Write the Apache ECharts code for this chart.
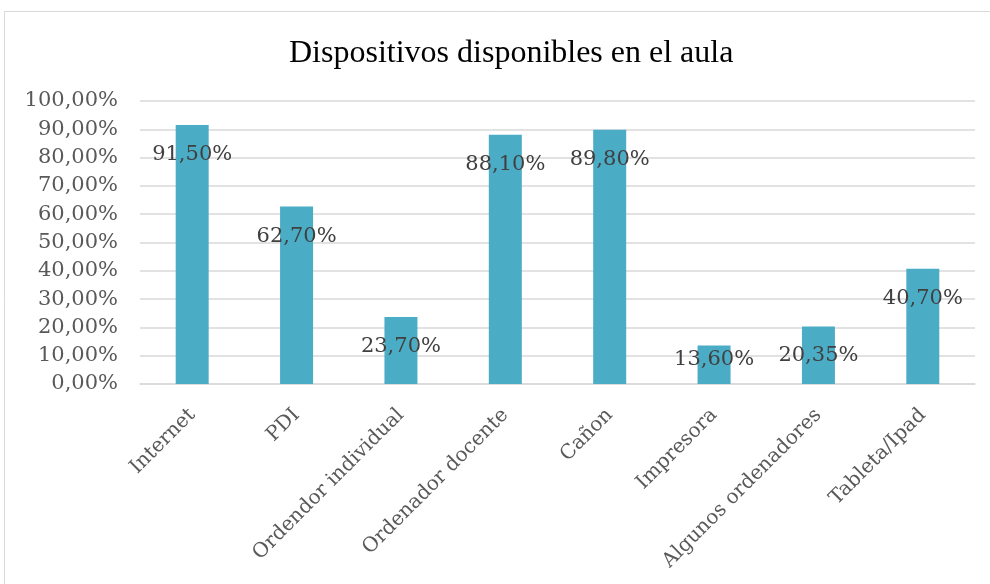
<!DOCTYPE html>
<html><head><meta charset="utf-8">
<script src="https://cdn.jsdelivr.net/npm/echarts@6/dist/echarts.min.js"></script>
<style>html,body{margin:0;padding:0;background:#fff}#c{width:990px;height:584px}</style>
</head><body><div id="c"></div>
<script>
const categories = ['Internet','PDI','Ordendor individual','Ordenador docente','Cañon','Impresora','Algunos ordenadores','Tableta/Ipad'];
const values = [91.5, 62.7, 23.7, 88.1, 89.8, 13.6, 20.35, 40.7];
const yTicks = {min: 0, max: 100, interval: 10};
const titleText = 'Dispositivos disponibles en el aula';

const fmt = v => v.toFixed(2).replace('.', ',') + '%';
const chart = echarts.init(document.getElementById('c'), null, {renderer: 'canvas'});
const data = values.map((v, i) => {
  const d = {value: v};
  if (v < 16) d.label = {distance: 4};
  return d;
});
chart.setOption({
  animation: false,
  backgroundColor: '#fff',
  graphic: [{type: 'rect', shape: {x: 4.5, y: 11.5, width: 1000, height: 600}, style: {fill: 'none', stroke: '#d9d9d9', lineWidth: 1}, silent: true}],
  title: {text: titleText, left: 284, top: 33, textStyle: {fontFamily: 'Liberation Serif', fontSize: 32, fontWeight: 'normal', color: '#000'}},
  grid: {left: 140, right: 15, top: 101, bottom: 200},
  xAxis: {
    type: 'category', data: categories,
    axisLine: {lineStyle: {color: '#d9d9d9', width: 1.5}},
    axisTick: {show: false},
    axisLabel: {rotate: 45, interval: 0, margin: 28, fontFamily: 'DejaVu Serif', fontSize: 20, color: '#595959'}
  },
  yAxis: {
    type: 'value', min: yTicks.min, max: yTicks.max, interval: yTicks.interval,
    axisLine: {show: false}, axisTick: {show: false},
    splitLine: {lineStyle: {color: '#d9d9d9', width: 1.5}},
    axisLabel: {margin: 22, fontFamily: 'DejaVu Serif', fontSize: 21, color: '#595959', formatter: v => fmt(v)}
  },
  series: [{
    type: 'bar', data: data, barWidth: 33,
    itemStyle: {color: '#4bacc6'},
    label: {show: true, position: 'insideTop', distance: 19, fontFamily: 'DejaVu Serif', fontSize: 21, color: '#404040', formatter: p => fmt(p.value)}
  }]
});
</script></body></html>
